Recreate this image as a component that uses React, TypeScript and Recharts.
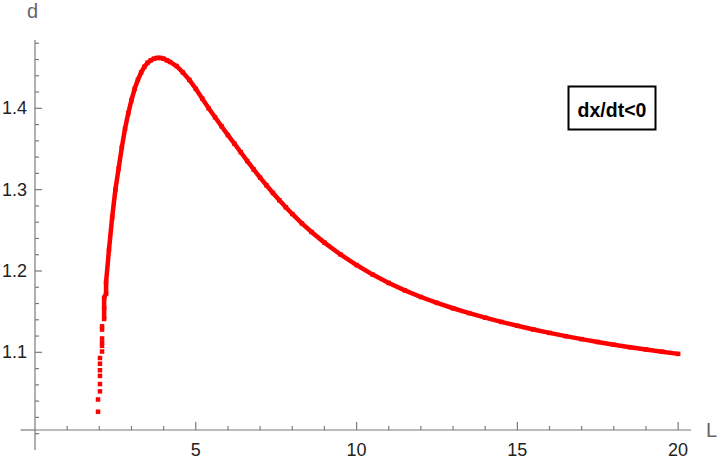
import { ScatterChart, Scatter, XAxis, YAxis, ReferenceLine } from 'recharts';

// sparse points at the foot of the curve
const startL = [1.96, 1.96, 2.02, 2.02, 2.02, 2.02, 2.02, 2.02, 2.085, 2.085, 2.085, 2.085, 2.085, 2.085];
const startD = [1.027, 1.042, 1.052, 1.061, 1.071, 1.078, 1.086, 1.093, 1.101, 1.108, 1.112, 1.117, 1.128, 1.132];

// main curve
const curveL = [
  2.15, 2.15, 2.15, 2.21, 2.21, 2.3, 2.4, 2.5, 2.6, 2.7, 2.8, 2.9, 3.0, 3.1, 3.2, 3.3, 3.4, 3.5, 3.6, 3.7,
  3.8, 3.9, 4.0, 4.1, 4.2, 4.4, 4.6, 4.8, 5.0, 5.2, 5.4, 5.6, 5.8, 6.0, 6.2, 6.4, 6.6, 6.8, 7.0, 7.2,
  7.4, 7.6, 7.8, 8.0, 8.3, 8.6, 9.0, 9.5, 10, 10.5, 11, 11.5, 12, 12.5, 13, 13.5, 14, 14.5, 15, 15.5,
  16, 16.5, 17, 17.5, 18, 18.5, 19, 19.5, 20,
];
const curveD = [
  1.141, 1.154, 1.167, 1.172, 1.186, 1.226, 1.266, 1.3, 1.326, 1.352, 1.375, 1.394, 1.41, 1.424, 1.435, 1.444, 1.451, 1.456, 1.459, 1.461,
  1.462, 1.462, 1.461, 1.459, 1.457, 1.452, 1.444, 1.435, 1.424, 1.412, 1.4, 1.389, 1.378, 1.367, 1.3565, 1.346, 1.3352, 1.3248, 1.3148, 1.3052,
  1.2959, 1.2869, 1.2783, 1.2701, 1.2585, 1.2479, 1.2349, 1.2203, 1.2073, 1.1956, 1.1853, 1.1762, 1.168, 1.1608, 1.1542, 1.1482, 1.1426, 1.1374, 1.1326, 1.1281,
  1.1239, 1.1199, 1.1162, 1.1127, 1.1094, 1.1063, 1.1034, 1.1007, 1.0981,
];

const xTicks = [1, 2, 3, 4, 5, 6, 7, 8, 9, 10, 11, 12, 13, 14, 15, 16, 17, 18, 19, 20];
const xLabels = [5, 10, 15, 20];
const yTicks = [
  1.02, 1.04, 1.06, 1.08, 1.1, 1.12, 1.14, 1.16, 1.18, 1.2, 1.22, 1.24,
  1.26, 1.28, 1.3, 1.32, 1.34, 1.36, 1.38, 1.4, 1.42, 1.44, 1.46, 1.48,
];
const yLabels = [1.1, 1.2, 1.3, 1.4];

const startData = startL.map((L, i) => ({ L, d: startD[i] }));
const curveData = curveL.map((L, i) => ({ L, d: curveD[i] }));

const RED = '#ff0000';
const AXIS = '#7a7a7a';
const FONT = '"Liberation Sans", Arial, sans-serif';

const Square = (p: any) => <rect x={p.cx - 2.25} y={p.cy - 2.25} width={4.5} height={4.5} fill={RED} />;

const XTick = (props: any) => {
  const { x, y, payload } = props;
  const major = xLabels.includes(payload.value);
  return (
    <g>
      <line x1={x} x2={x} y1={y} y2={y - (major ? 8 : 4)} stroke={AXIS} strokeWidth={1.2} />
      {major && (
        <text x={x} y={y + 26} textAnchor="middle" fontSize={18} fontFamily={FONT} fill="#222">
          {payload.value}
        </text>
      )}
    </g>
  );
};

const YTick = (props: any) => {
  const { x, y, payload } = props;
  const major = yLabels.some((v) => Math.abs(v - payload.value) < 1e-6);
  return (
    <g>
      <line x1={x} x2={x + (major ? 7 : 4)} y1={y} y2={y} stroke={AXIS} strokeWidth={1.2} />
      {major && (
        <text x={x - 8} y={y + 6} textAnchor="end" fontSize={18} fontFamily={FONT} fill="#222">
          {payload.value.toFixed(1)}
        </text>
      )}
    </g>
  );
};

const App = () => (
  <div style={{ position: 'absolute', left: 0, top: 0, width: 720, height: 466, background: '#fff' }}>
    <ScatterChart width={720} height={466} margin={{ top: 40, right: 29, left: 34, bottom: 35 }}>
      <XAxis
        type="number"
        dataKey="L"
        domain={[0, 20.4]}
        allowDataOverflow
        ticks={xTicks}
        interval={0}
        height={1}
        tickSize={0}
        tickMargin={0}
        tickLine={false}
        axisLine={{ stroke: AXIS, strokeWidth: 1.2 }}
        tick={<XTick />}
      />
      <YAxis
        type="number"
        dataKey="d"
        domain={[1.0045, 1.484]}
        allowDataOverflow
        ticks={yTicks}
        interval={0}
        width={1}
        tickSize={0}
        tickMargin={0}
        tickLine={false}
        axisLine={{ stroke: AXIS, strokeWidth: 1.2 }}
        tick={<YTick />}
      />
      <ReferenceLine segment={[{ x: -0.45, y: 1.0045 }, { x: 0, y: 1.0045 }]} stroke={AXIS} strokeWidth={1.2} ifOverflow="visible" />
      <ReferenceLine segment={[{ x: 0, y: 0.98 }, { x: 0, y: 1.0045 }]} stroke={AXIS} strokeWidth={1.2} ifOverflow="visible" />
      <ReferenceLine segment={[{ x: 0, y: 1.0 }, { x: 0.13, y: 1.0 }]} stroke={AXIS} strokeWidth={1.2} ifOverflow="visible" />
      <Scatter data={startData} shape={Square} fill={RED} isAnimationActive={false} />
      <Scatter
        data={curveData}
        shape={Square}
        fill={RED}
        line={{ stroke: RED, strokeWidth: 4.5 }}
        isAnimationActive={false}
      />
    </ScatterChart>
    <svg width={720} height={466} style={{ position: 'absolute', left: 0, top: 0, pointerEvents: 'none' }}>
      <text x={32.5} y={18} textAnchor="middle" fontSize={20} fontFamily={FONT} fill="#666">d</text>
      <text x={706} y={437} fontSize={20} fontFamily={FONT} fill="#666">L</text>
      <rect x={568.5} y={86.5} width={87} height={43} fill="#fff" stroke="#000" strokeWidth={2} />
      <text x={612} y={116.5} textAnchor="middle" fontSize={19.5} fontWeight="bold" fontFamily={FONT} fill="#000">
        dx/dt&lt;0
      </text>
    </svg>
  </div>
);

export default App;
